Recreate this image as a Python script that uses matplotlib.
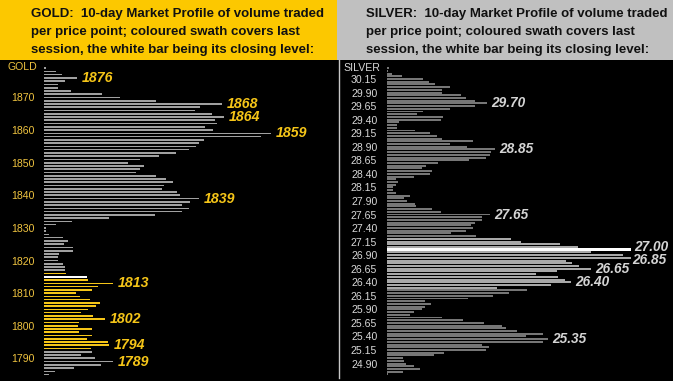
import matplotlib
matplotlib.use('Agg')
import matplotlib.pyplot as plt
from matplotlib.patches import Rectangle
from matplotlib.lines import Line2D

# ---------------- data ----------------
gold_prices = list(range(1879, 1784, -1))
gold_volume = [2, 12, 18, 33, 21, 14, 14, 27, 58, 76,
               112, 178, 156, 151, 168, 180, 171, 173, 161, 169,
               227, 217, 160, 155, 152, 145, 132, 115, 96, 84,
               100, 96, 92, 112, 122, 129, 120, 118, 133, 136,
               155, 146, 138, 145, 138, 111, 65, 28, 12, 2,
               2, 5, 19, 24, 20, 29, 29, 15, 14, 14,
               19, 21, 21, 22, 43, 44, 69, 54, 48, 32,
               36, 46, 56, 52, 44, 37, 49, 61, 35, 34,
               48, 35, 48, 43, 64, 65, 47, 48, 37, 51,
               69, 57, 30, 11, 5]
gold_session_low, gold_session_high = 1793, 1816
gold_close = 1815
gold_labels = [1876, 1868, 1864, 1859, 1839, 1813, 1802, 1794, 1789]
gold_ticks = [1870, 1860, 1850, 1840, 1830, 1820, 1810, 1800, 1790]

silver_prices = [round(30.35 - 0.05 * i, 2) for i in range(114)]
silver_volume = [2, 1, 5, 15, 36, 42, 48, 63, 55, 55,
                 74, 79, 88, 100, 88, 63, 36, 30, 56, 54,
                 12, 10, 10, 28, 43, 50, 55, 86, 63, 80,
                 108, 104, 103, 99, 82, 51, 39, 35, 45, 43,
                 27, 9, 11, 9, 6, 6, 9, 23, 17, 20,
                 28, 29, 45, 54, 103, 95, 95, 88, 84, 86,
                 79, 64, 89, 124, 134, 173, 191, 244, 204, 236,
                 244, 179, 185, 192, 204, 170, 149, 171, 178, 184,
                 164, 110, 140, 122, 106, 81, 38, 44, 38, 35,
                 27, 23, 55, 76, 97, 115, 119, 130, 156, 139,
                 161, 156, 95, 102, 99, 57, 47, 16, 17, 19,
                 27, 33, 16, 1]
silver_session_low, silver_session_high = 26.30, 27.20
silver_close = 27.00
silver_labels = [29.70, 28.85, 27.65, 27.00, 26.85, 26.65, 26.40, 25.35]
silver_ticks = [30.15, 29.90, 29.65, 29.40, 29.15, 28.90, 28.65, 28.40, 28.15,
                27.90, 27.65, 27.40, 27.15, 26.90, 26.65, 26.40, 26.15, 25.90,
                25.65, 25.40, 25.15, 24.90]

gold_title = ["GOLD:  10-day Market Profile of volume traded",
              "per price point; coloured swath covers last",
              "session, the white bar being its closing level:"]
silver_title = ["SILVER:  10-day Market Profile of volume traded",
                "per price point; coloured swath covers last",
                "session, the white bar being its closing level:"]

# ---------------- figure ----------------
W, H = 673, 381
fig = plt.figure(figsize=(W / 100, H / 100), dpi=100)
fig.patch.set_facecolor('black')
FONT = 'Liberation Sans'

def px_rect(x, y, w, h, **kw):
    fig.patches.append(Rectangle((x / W, 1 - (y + h) / H), w / W, h / H,
                                 transform=fig.transFigure, **kw))

# headers
px_rect(0, 0, 337, 60, facecolor='#fcc800', edgecolor='none')
px_rect(337, 0, 336, 60, facecolor='#c0c0c0', edgecolor='none')
# silver panel left edge line
fig.lines.append(Line2D([338.5 / W, 338.5 / W], [1 - 60 / H, 1 - 378 / H],
                        transform=fig.transFigure, color='#c8c8c8', linewidth=1))

for i, line in enumerate(gold_title):
    fig.text(31 / W, 1 - (13.5 + 18.3 * i) / H, line, ha='left', va='center',
             fontsize=9.5, fontweight='bold', family=FONT, color='#111111')
for i, line in enumerate(silver_title):
    fig.text(366 / W, 1 - (13.5 + 18.3 * i) / H, line, ha='left', va='center',
             fontsize=9.5, fontweight='bold', family=FONT, color='#111111')

def setup(ax):
    ax.set_facecolor('none')
    for s in ax.spines.values():
        s.set_visible(False)
    ax.tick_params(axis='y', length=0, pad=7)
    ax.set_xticks([])

# ---------------- gold ----------------
axg = fig.add_axes([44 / W, 0, 288 / W, 321 / H])
setup(axg)
gcolors = []
for p in gold_prices:
    if p == gold_close:
        gcolors.append('#ffffff')
    elif gold_session_low <= p <= gold_session_high:
        gcolors.append('#f5c518')
    else:
        gcolors.append('#a0a0a0')
axg.barh(gold_prices, gold_volume, height=0.5, color=gcolors, linewidth=0,
         antialiased=False)
axg.set_xlim(0, 288)
axg.set_ylim(1783.04, 1881.5)
axg.set_yticks(gold_ticks)
axg.set_yticklabels([str(t) for t in gold_ticks], family=FONT, fontsize=7.6,
                    color='#f0c440')
axg.text(-7, 1879.4, 'GOLD', transform=axg.transData,
         ha='right', va='center', family=FONT, fontsize=7.6, color='#f0c440')
for p in gold_labels:
    v = gold_volume[gold_prices.index(p)]
    axg.annotate(str(p), xy=(v, p), xytext=(3.6, 0), textcoords='offset points',
                 ha='left', va='center', family=FONT, fontsize=10.2,
                 fontweight='bold', fontstyle='italic', color='#f5c518')

# ---------------- silver ----------------
axs = fig.add_axes([387 / W, 0, 281 / W, 321 / H])
setup(axs)
scolors = []
sheights = []
for p in silver_prices:
    if abs(p - silver_close) < 1e-6:
        scolors.append('#ffffff')
        sheights.append(0.05)
    elif silver_session_low - 1e-6 <= p <= silver_session_high + 1e-6:
        scolors.append('#a8a8a8')
        sheights.append(0.036)
    else:
        scolors.append('#767676')
        sheights.append(0.036)
axs.barh(silver_prices, silver_volume, height=sheights, color=scolors, linewidth=0)
axs.set_xlim(0, 281)
axs.set_ylim(24.578, 30.5006)
axs.set_yticks(silver_ticks)
axs.set_yticklabels(['%.2f' % t for t in silver_ticks], family=FONT, fontsize=7.6,
                    color='#d8d8d8')
axs.text(-7, 30.35, 'SILVER', ha='right', va='center', family=FONT,
         fontsize=7.6, color='#d8d8d8', transform=axs.transData)
for p in silver_labels:
    v = silver_volume[silver_prices.index(p)]
    dy, dx = 0, 3.0
    if abs(p - 27.00) < 1e-6:
        dy, dx = 2.2, 2.0
    elif abs(p - 26.85) < 1e-6:
        dy, dx = -1.2, 0.8
    axs.annotate('%.2f' % p, xy=(v, p), xytext=(dx, dy), textcoords='offset points',
                 ha='left', va='center', family=FONT, fontsize=9.8,
                 fontweight='bold', fontstyle='italic', color='#d4d4d4')

fig.savefig('out.png', dpi=100, facecolor='black')
